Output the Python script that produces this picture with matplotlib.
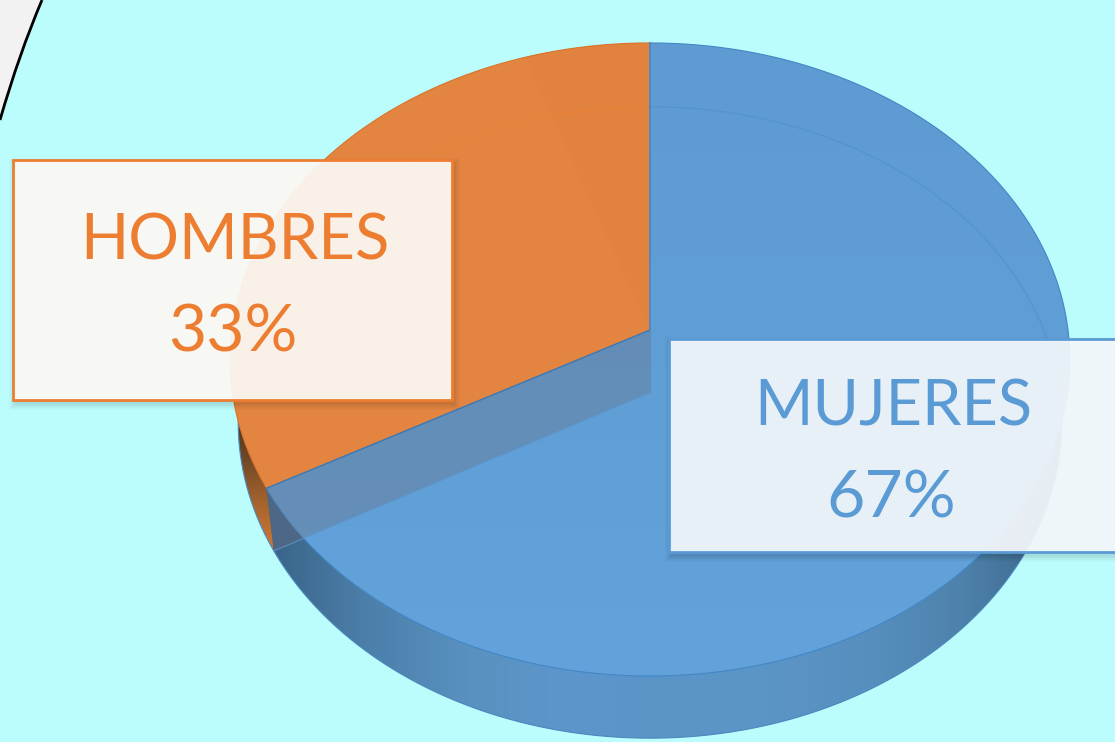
import numpy as np
import matplotlib
matplotlib.use('Agg')
import matplotlib.pyplot as plt
from matplotlib.colors import LinearSegmentedColormap
from matplotlib.patches import Polygon, PathPatch, Rectangle
from matplotlib.path import Path

# datos
categorias = ['MUJERES', 'HOMBRES']
valores = [67, 33]
etiquetas = ['67%', '33%']

plt.rcParams['font.family'] = ['Lato', 'DejaVu Sans']

AZUL = '#5B9BD5'
NARANJA = '#ED7D31'
FONDO = '#BBFCFC'

# perspectiva del disco superior e inferior
K = 0.0932
SUP = dict(a=418, b=313.8, y0=330)
INF = dict(a=410, b=313, y0=393)

fig = plt.figure(figsize=(11.15, 7.42), dpi=100, facecolor=FONDO)
ax = fig.add_axes([0, 0, 1, 1])
ax.set_facecolor(FONDO)


def disco(t, a, b, y0):
    # t en radianes, contado desde arriba en sentido antihorario
    w = 1 + K * np.cos(t)
    return 650 - a * np.sin(t) / w, y0 - b * np.cos(t) / w


def sector(t1, t2, d):
    t = np.linspace(t1, t2, 300)
    x, y = disco(t, **d)
    return np.r_[650, x], np.r_[d['y0'], y]


def gradiente(xy, colores, extent, horizontal=True, z=1):
    cmap = LinearSegmentedColormap.from_list('g', colores)
    g = np.linspace(0, 1, 256)
    g = g.reshape(1, -1) if horizontal else g.reshape(-1, 1)
    im = ax.imshow(g, cmap=cmap, extent=extent, aspect='auto', zorder=z, origin='upper')
    im.set_clip_path(Polygon(xy, closed=True, transform=ax.transData))


angulo_h = 2 * np.pi * valores[1] / sum(valores)
angulo_faceta = np.radians(19)

# esquina gris con arco negro
esquina = Path([(0, 0), (42, 0), (19, 54), (0, 120), (0, 0)],
               [Path.MOVETO, Path.LINETO, Path.CURVE3, Path.CURVE3, Path.CLOSEPOLY])
ax.add_patch(PathPatch(esquina, fc='#F2F2F2', ec='none', zorder=0.5))
arco = Path([(42, 0), (19, 54), (0, 120)], [Path.MOVETO, Path.CURVE3, Path.CURVE3])
ax.add_patch(PathPatch(arco, fc='none', ec='black', lw=2.0, zorder=0.6))

# pared lateral (disco inferior)
x, y = sector(angulo_h, 2 * np.pi, INF)
gradiente(np.c_[x, y],
          ['#3A6488', '#4C80AB', '#5A91C0', '#5C96CB', '#5B94C7', '#5B94C6', '#5790BF', '#4E82AC', '#3A6488'],
          (270, 1062, 742, 0), z=1)
x, y = sector(0, angulo_h, INF)
gradiente(np.c_[x, y], ['#3E2C1C', '#6B4526', '#A9662F', '#D97A35'], (230, 300, 560, 400),
          horizontal=False, z=1)
t = np.linspace(0, 2 * np.pi, 500)
x, y = disco(t, **INF)
ax.plot(x[100:], y[100:], color='#4A88BE', lw=0.8, zorder=1.2)

# cara superior
x, y = sector(angulo_h, 2 * np.pi, SUP)
gradiente(np.c_[x, y], ['#5F9BD3', '#609ED6', '#63A2DA'], (220, 1080, 690, 40), horizontal=False, z=2)
x, y = sector(0, angulo_h, SUP)
ax.fill(x, y, color='#E38541', lw=0, zorder=2)
x, y = sector(0, angulo_faceta, SUP)
ax.fill(x, y, color='#E1833E', lw=0, zorder=2.1)

# borde de la cara superior
t = np.linspace(angulo_h, 2 * np.pi, 400)
x, y = disco(t, **SUP)
ax.plot(x, y, color='#4287C6', lw=0.8, zorder=2.5)
t = np.linspace(0, angulo_h, 200)
x, y = disco(t, **SUP)
ax.plot(x, y, color='#D9742A', lw=0.8, zorder=2.5)

# arco trasero del disco inferior, visto por transparencia
t = np.linspace(0, np.radians(95), 200)
x, y = disco(t, **INF)
ax.plot(x, y, color='#EE7A28', lw=1.0, alpha=0.35, zorder=2.6)
t = np.linspace(np.radians(-96), 0, 200)
x, y = disco(t, **INF)
ax.plot(x, y, color='#4A8AC4', lw=1.0, alpha=0.45, zorder=2.6)

# pared del corte
x_s, y_s = disco(angulo_h, **SUP)
x_i, y_i = disco(angulo_h, **INF)
pared = [(650, SUP['y0']), (650, INF['y0']), (x_i, y_i), (x_s, y_s)]
ax.add_patch(Polygon(pared, closed=True, fc='#2E4A68', ec='none', zorder=1.5))
ax.add_patch(Polygon(pared, closed=True, fc='#67819F', ec='none', alpha=0.55, zorder=3))
ax.plot([650, x_i], [INF['y0'], y_i], color='#5A9AD6', lw=0.8, alpha=0.7, zorder=3.1)
ax.plot([650, x_s], [SUP['y0'], y_s], color='#3A78B5', lw=1.0, zorder=3.2)
ax.plot([650, 650], [43, SUP['y0']], color='#4A86BF', lw=1.2, zorder=3.2)
ax.plot([650, 650], [SUP['y0'], INF['y0']], color='#5F8FC0', lw=0.8, zorder=3.2)


def caja(x0, y0, ancho, alto, borde, relleno):
    # sombra suave: rectangulos apilados
    for i in range(8):
        d = i * 0.8
        ax.add_patch(Rectangle((x0 + 2 - d, y0 + 4 - d), ancho + 2 * d, alto + 2 * d,
                               fc='black', ec='none', alpha=0.014, zorder=4))
    ax.add_patch(Rectangle((x0, y0), ancho, alto, fc=relleno, ec='none', alpha=0.93, zorder=5))
    ax.add_patch(Rectangle((x0, y0), ancho, alto, fc='none', ec=borde, lw=2.0, zorder=5.1))


caja(13, 160, 439, 240, NARANJA, '#FEFAF6')
caja(669, 339, 460, 213, AZUL, '#F5F9FD')

ax.text(235, 260, categorias[1], color=NARANJA, fontsize=45.6, ha='center', va='baseline', zorder=6)
ax.text(233, 352, etiquetas[1], color=NARANJA, fontsize=47.5, ha='center', va='baseline', zorder=6)
ax.text(893, 426, categorias[0], color=AZUL, fontsize=45.4, ha='center', va='baseline', zorder=6)
ax.text(891, 517, etiquetas[0], color=AZUL, fontsize=47.5, ha='center', va='baseline', zorder=6)

ax.set_xlim(0, 1115)
ax.set_ylim(742, 0)
ax.axis('off')

fig.savefig('out.png', dpi=100, facecolor=FONDO)
